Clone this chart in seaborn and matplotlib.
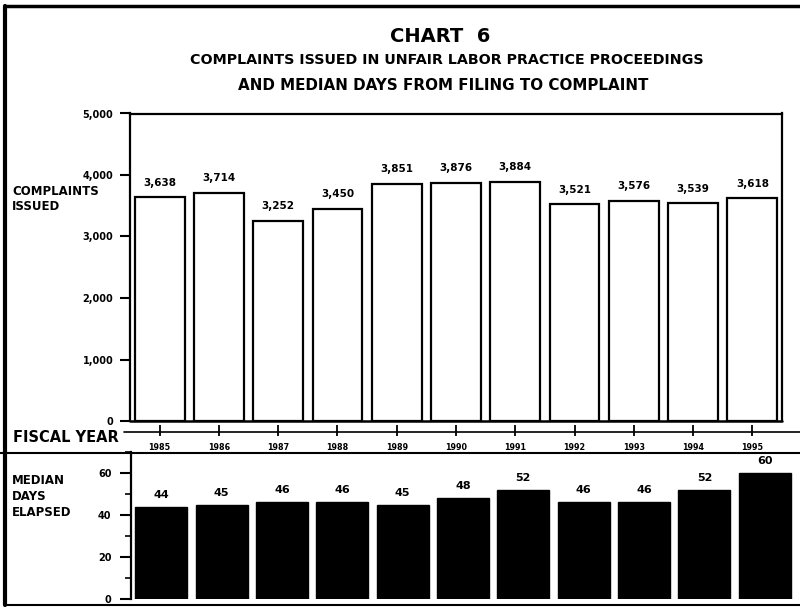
import matplotlib
matplotlib.use("Agg")
import matplotlib.pyplot as plt
from matplotlib.lines import Line2D
from matplotlib.ticker import MultipleLocator
import seaborn as sns
import pandas as pd

# Fiscal years and the two series shown in the chart
years = ["1985", "1986", "1987", "1988", "1989", "1990",
         "1991", "1992", "1993", "1994", "1995"]
complaints_issued = [3638, 3714, 3252, 3450, 3851, 3876, 3884, 3521, 3576, 3539, 3618]
median_days = [44, 45, 46, 46, 45, 48, 52, 46, 46, 52, 60]

complaint_ticks = [0, 1000, 2000, 3000, 4000, 5000]
days_ticks = [0, 20, 40, 60]

df = pd.DataFrame({"year": years,
                   "complaints": complaints_issued,
                   "days": median_days})

sns.set_style("white")
plt.rcParams["font.family"] = ["DejaVu Sans"]
plt.rcParams["font.weight"] = "bold"
for key in ["text.color", "axes.labelcolor", "xtick.color", "ytick.color",
            "axes.edgecolor"]:
    plt.rcParams[key] = "black"

W, H = 800, 608
fig = plt.figure(figsize=(W / 100, H / 100), dpi=100)


def fy(y):
    return 1 - y / H


# ---- upper panel: complaints issued ----
ax1 = fig.add_axes([130 / W, fy(421), (782 - 130) / W, (421 - 113.5) / H])
sns.barplot(data=df, x="year", y="complaints", ax=ax1, color="white",
            edgecolor="black", linewidth=1.6, width=0.84, saturation=1)
ax1.set_ylim(0, 5000)
ax1.set_xlim(-0.5, len(years) - 0.5)
ax1.set_yticks(complaint_ticks)
ax1.set_yticklabels([f"{t:,}" for t in complaint_ticks], fontsize=7,
                    fontweight="bold")
ax1.tick_params(axis="y", direction="out", length=7, width=1.5, pad=5,
                left=True, colors="black")
ax1.xaxis.set_ticks_position("bottom")
ax1.spines["bottom"].set_position(("outward", 11))
ax1.spines["bottom"].set_visible(False)
ax1.tick_params(axis="x", which="major", direction="in", length=8, width=1.3,
                pad=5, bottom=True, labelsize=5.8, colors="black")
for lab in ax1.get_xticklabels():
    lab.set_fontweight("bold")
ax1.set_xlabel("")
ax1.set_ylabel("")
for side in ["left", "top", "right"]:
    ax1.spines[side].set_linewidth(1.6)
ax1.axhline(0, color="black", lw=1.8, clip_on=False)
ax1.bar_label(ax1.containers[0], labels=[f"{v:,}" for v in complaints_issued],
              padding=7, fontsize=7.5, fontweight="bold")

# fiscal-year axis line running under the upper panel
fig.add_artist(Line2D([124 / W, 1], [fy(432), fy(432)], color="black", lw=1.2))

# ---- lower panel: median days elapsed ----
ax2 = fig.add_axes([131 / W, fy(599), (795 - 131) / W, (599 - 452) / H])
sns.barplot(data=df, x="year", y="days", ax=ax2, color="black",
            edgecolor="black", width=0.86, saturation=1)
ax2.set_ylim(0, 70)
ax2.set_xlim(-0.5, len(years) - 0.5)
ax2.set_yticks(days_ticks)
ax2.set_yticklabels([str(t) for t in days_ticks], fontsize=7, fontweight="bold")
ax2.yaxis.set_minor_locator(MultipleLocator(10))
ax2.tick_params(axis="y", which="major", direction="out", length=8, width=1.5,
                pad=6, left=True, colors="black")
ax2.tick_params(axis="y", which="minor", direction="out", length=4, width=1.2,
                left=True, colors="black")
ax2.set_xticks([])
ax2.set_xlabel("")
ax2.set_ylabel("")
for side in ["top", "right", "bottom"]:
    ax2.spines[side].set_visible(False)
ax2.spines["left"].set_linewidth(1.6)
ax2.bar_label(ax2.containers[0], labels=[str(v) for v in median_days],
              padding=5, fontsize=8, fontweight="bold")

# ---- titles and side labels ----
fig.text(440 / W, fy(36), "CHART  6", ha="center", va="center",
         fontsize=14, fontweight="bold")
fig.text(447 / W, fy(60), "COMPLAINTS ISSUED IN UNFAIR LABOR PRACTICE PROCEEDINGS",
         ha="center", va="center", fontsize=10.3, fontweight="bold")
fig.text(443 / W, fy(86), "AND MEDIAN DAYS FROM FILING TO COMPLAINT",
         ha="center", va="center", fontsize=10.9, fontweight="bold")
fig.text(12 / W, fy(199), "COMPLAINTS\nISSUED", ha="left", va="center",
         fontsize=8.5, fontweight="bold", linespacing=1.25)
fig.text(13 / W, fy(438), "FISCAL YEAR", ha="left", va="center",
         fontsize=10.5, fontweight="bold")
fig.text(12 / W, fy(497), "MEDIAN\nDAYS\nELAPSED", ha="left", va="center",
         fontsize=8.5, fontweight="bold", linespacing=1.3)

# ---- frame and panel separator ----
fig.add_artist(Line2D([0, 1], [fy(453), fy(453)], color="black", lw=1.5))
fig.add_artist(Line2D([5 / W, 5 / W], [fy(6), fy(605)], color="black", lw=3))
fig.add_artist(Line2D([5 / W, 1], [fy(6), fy(6)], color="black", lw=2.5))
fig.add_artist(Line2D([5 / W, 1], [fy(605), fy(605)], color="black", lw=1.5))

fig.savefig("out.png", dpi=100, facecolor="white")
